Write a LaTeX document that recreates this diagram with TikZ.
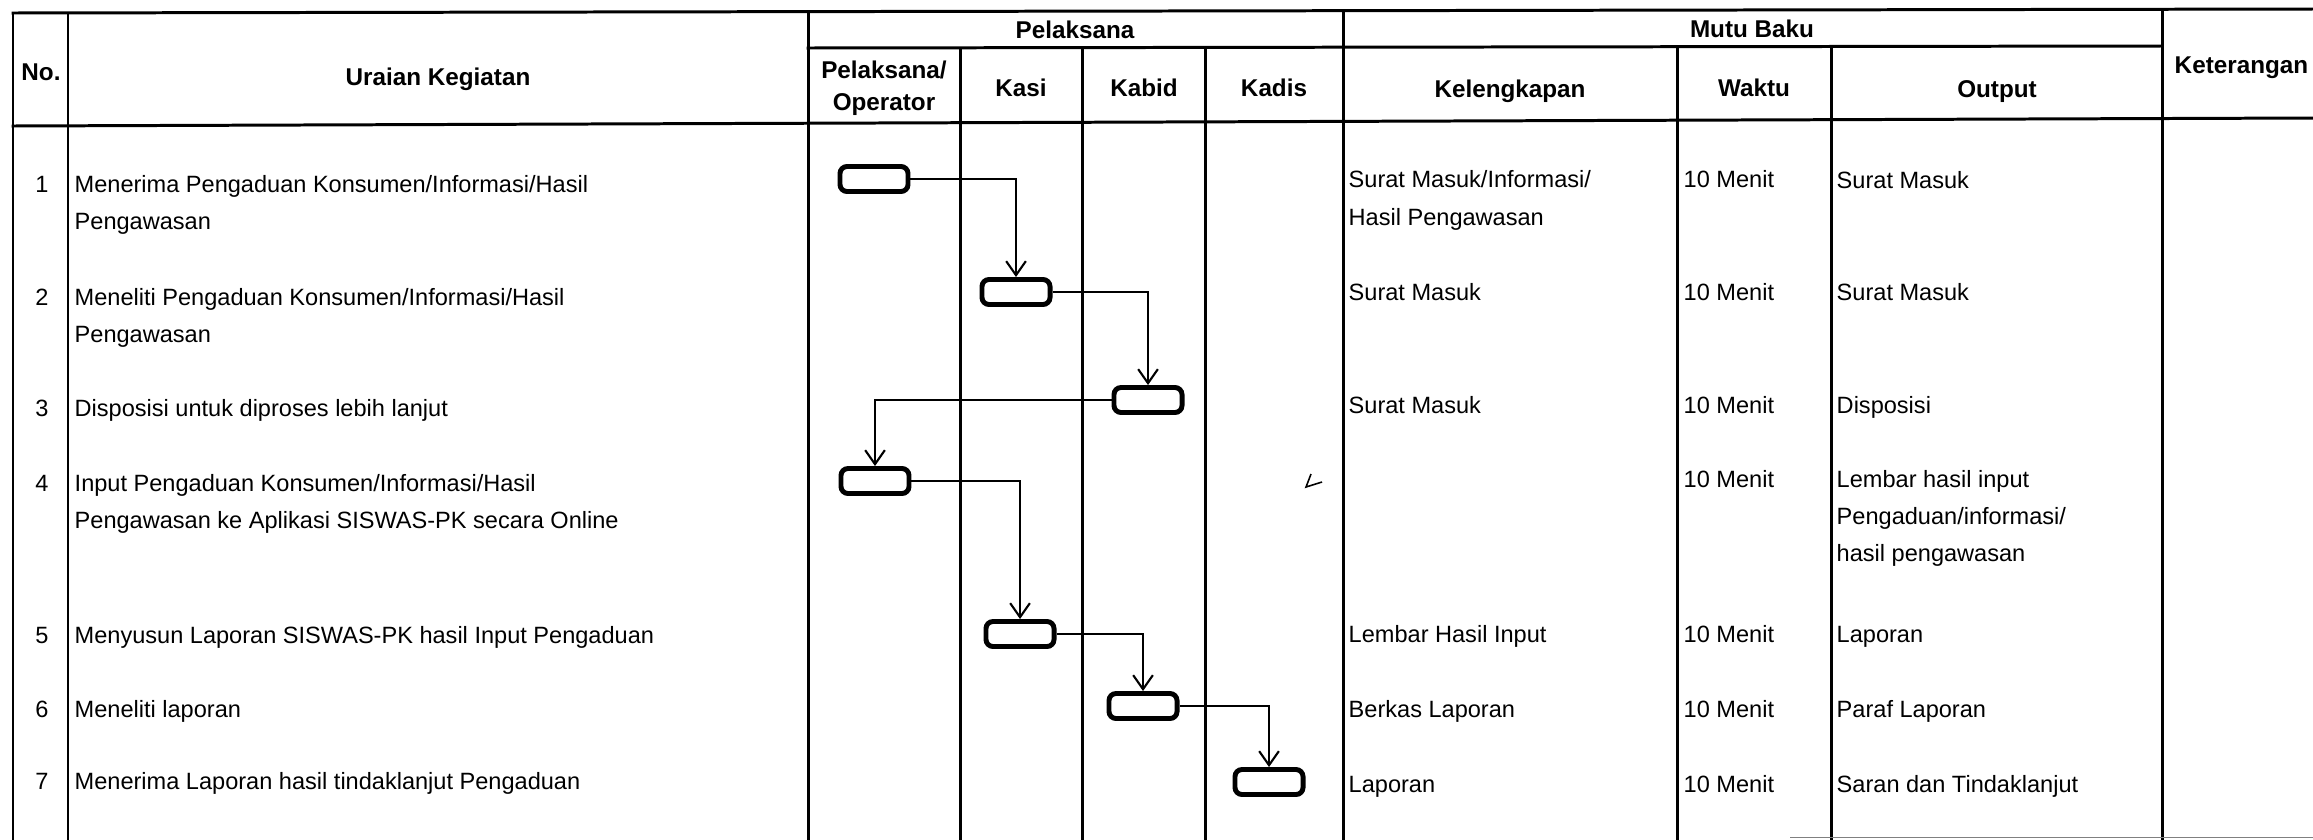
\documentclass[tikz,border=0pt]{standalone}
\usepackage{fontspec}
\setmainfont{Liberation Sans}
\usetikzlibrary{arrows.meta}
\begin{document}
\begin{tikzpicture}[x=0.01cm,y=-0.01cm,
  grid/.style={line width=0.85pt,line cap=rect},
  tx/.style={anchor=base west,inner sep=0pt,font=\fontsize{6.7pt}{10.7pt}\selectfont},
  num/.style={anchor=base,inner sep=0pt,font=\fontsize{6.7pt}{10.7pt}\selectfont},
  hd/.style={anchor=base,inner sep=0pt,font=\fontsize{6.9pt}{10pt}\selectfont\bfseries},
  actbox/.style={draw,line width=1.4pt,rounded corners=2pt,minimum width=0.68cm,minimum height=0.25cm,inner sep=0pt},
  conn/.style={line width=0.6pt,-{Straight Barb[length=4pt,width=5.6pt,line width=0.6pt]}}]
\useasboundingbox (0,0) rectangle (2313,839);
\fill[white] (0,0) rectangle (2313,839);
% grid
\draw[grid] (13,13) -- (2313,9);
\draw[grid] (808,48) -- (2161,46);
\draw[grid] (13,126) -- (2313,118);
\draw[grid] (13,13) -- (13,839);
\draw[grid] (68,13) -- (68,839);
\draw[grid] (808,12) -- (808,839);
\draw[grid] (960,48) -- (960,839);
\draw[grid] (1082,48) -- (1082,839);
\draw[grid] (1205,47) -- (1205,839);
\draw[grid] (1343,11) -- (1343,839);
\draw[grid] (1677,47) -- (1677,839);
\draw[grid] (1831,47) -- (1831,839);
\draw[grid] (2162,10) -- (2162,839);
\draw[line width=0.5pt,gray] (1790,837.5) -- (2313,837.5);
% header
\node[hd] (hno) at (41,80) {No.};
\node[hd] (hur) at (438,85) {Uraian Kegiatan};
\node[hd] (hpel) at (1075,38) {Pelaksana};
\node[hd] (hmb) at (1752,37) {Mutu Baku};
\node[hd] (hop1) at (884,78) {Pelaksana/};
\node[hd] (hop2) at (884,110) {Operator};
\node[hd] (hkasi) at (1021,96) {Kasi};
\node[hd] (hkabid) at (1144,96) {Kabid};
\node[hd] (hkadis) at (1274,96) {Kadis};
\node[hd] (hkel) at (1510,97) {Kelengkapan};
\node[hd] (hwak) at (1754,96) {Waktu};
\node[hd] (hout) at (1997,97) {Output};
\node[hd,anchor=base west] (hket) at (2174,73) {Keterangan};
% numbers
\node[num] (n1) at (42,192) {1};
\node[num] (n2) at (42,305) {2};
\node[num] (n3) at (42,416) {3};
\node[num] (n4) at (42,491) {4};
\node[num] (n5) at (42,643) {5};
\node[num] (n6) at (42,717) {6};
\node[num] (n7) at (42,789) {7};
% uraian
\node[tx] (u1a) at (74,192) {Menerima Pengaduan Konsumen/Informasi/Hasil};
\node[tx] (u1b) at (74,229) {Pengawasan};
\node[tx] (u2a) at (74,305) {Meneliti Pengaduan Konsumen/Informasi/Hasil};
\node[tx] (u2b) at (74,342) {Pengawasan};
\node[tx] (u3a) at (74,416) {Disposisi untuk diproses lebih lanjut};
\node[tx] (u4a) at (74,491) {Input Pengaduan Konsumen/Informasi/Hasil};
\node[tx] (u4b) at (74,528) {Pengawasan ke Aplikasi SISWAS-PK secara Online};
\node[tx] (u5a) at (74,643) {Menyusun Laporan SISWAS-PK hasil Input Pengaduan};
\node[tx] (u6a) at (74,717) {Meneliti laporan};
\node[tx] (u7a) at (74,789) {Menerima Laporan hasil tindaklanjut Pengaduan};
% kelengkapan
\node[tx] (k1a) at (1348,187) {Surat Masuk/Informasi/};
\node[tx] (k1b) at (1348,225) {Hasil Pengawasan};
\node[tx] (k2a) at (1348,300) {Surat Masuk};
\node[tx] (k3a) at (1348,413) {Surat Masuk};
\node[tx] (k5a) at (1348,642) {Lembar Hasil Input};
\node[tx] (k6a) at (1348,717) {Berkas Laporan};
\node[tx] (k7a) at (1348,792) {Laporan};
% waktu
\node[tx] (w1) at (1683,187) {10 Menit};
\node[tx] (w2) at (1683,300) {10 Menit};
\node[tx] (w3) at (1683,413) {10 Menit};
\node[tx] (w4) at (1683,487) {10 Menit};
\node[tx] (w5) at (1683,642) {10 Menit};
\node[tx] (w6) at (1683,717) {10 Menit};
\node[tx] (w7) at (1683,792) {10 Menit};
% output
\node[tx] (o1a) at (1836,188) {Surat Masuk};
\node[tx] (o2a) at (1836,300) {Surat Masuk};
\node[tx] (o3a) at (1836,413) {Disposisi};
\node[tx] (o4a) at (1836,487) {Lembar hasil input};
\node[tx] (o4b) at (1836,524) {Pengaduan/informasi/};
\node[tx] (o4c) at (1836,561) {hasil pengawasan};
\node[tx] (o5a) at (1836,642) {Laporan};
\node[tx] (o6a) at (1836,717) {Paraf Laporan};
\node[tx] (o7a) at (1836,792) {Saran dan Tindaklanjut};
% activity boxes
\node[actbox] (b1) at (874,179) {};
\node[actbox] (b2) at (1016,292) {};
\node[actbox] (b3) at (1148,400) {};
\node[actbox] (b4) at (875,481) {};
\node[actbox] (b5) at (1020,634) {};
\node[actbox] (b6) at (1143,706) {};
\node[actbox] (b7) at (1269,782) {};
\draw[conn] (b1.east) -| (b2.north);
\draw[conn] (b2.east) -| (b3.north);
\draw[conn] (b3.west) -| (b4.north);
\draw[conn] (b4.east) -| (b5.north);
\draw[conn] (b5.east) -| (b6.north);
\draw[conn] (b6.east) -| (b7.north);
% stray pen mark
\draw[line width=0.45pt] (1311,474) -- (1306,487) -- (1322,482);
\end{tikzpicture}
\end{document}
